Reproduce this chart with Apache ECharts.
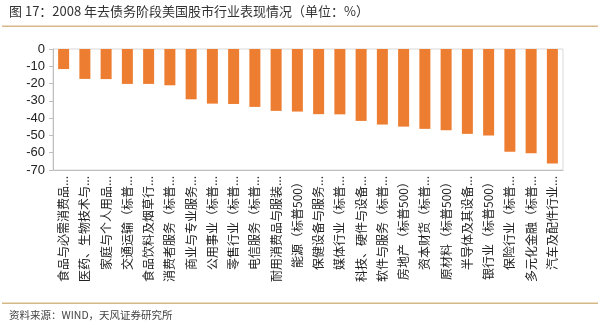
<!DOCTYPE html>
<html>
<head>
<meta charset="utf-8">
<script src="https://cdn.jsdelivr.net/npm/echarts@6/dist/echarts.min.js"></script>
<style>
html,body{margin:0;padding:0;background:#fff;}
#chart{width:600px;height:330px;}
</style>
</head>
<body>
<div id="chart"></div>
<script>
var titleText = '图 17：2008 年去债务阶段美国股市行业表现情况（单位：%）';
var sourceText = '资料来源：WIND，天风证券研究所';
var categories = [
  '食品与必需消费品...', '医药、生物技术与...', '家庭与个人用品...', '交通运输（标普...',
  '食品饮料及烟草行...', '消费者服务（标普...', '商业与专业服务...', '公用事业（标普...',
  '零售行业（标普...', '电信服务（标普...', '耐用消费品与服装...', '能源（标普500）',
  '保健设备与服务...', '媒体行业（标普...', '科技、硬件与设备...', '软件与服务（标普...',
  '房地产（标普500）', '资本财货（标普...', '原材料（标普500）', '半导体及其设备...',
  '银行业（标普500）', '保险行业（标普...', '多元化金融（标普...', '汽车及配件行业...'
];
var values = [-11.6, -17.3, -17.4, -20.2, -20.2, -21.0, -29.1, -31.6, -31.8, -33.5, -35.8, -36.2,
              -37.7, -37.8, -41.6, -43.7, -44.9, -46.2, -47.0, -49.1, -50.1, -59.4, -60.3, -66.3];
var yTicks = [0, -10, -20, -30, -40, -50, -60, -70];

var chart = echarts.init(document.getElementById('chart'), null, {renderer: 'canvas'});
chart.setOption({
  animation: false,
  backgroundColor: '#fff',
  grid: {left: 53, right: 37, top: 49, bottom: 160, show: true, borderColor: '#d9d9d9', borderWidth: 1},
  xAxis: {
    type: 'category',
    data: categories,
    position: 'bottom',
    axisLine: {onZero: false, lineStyle: {color: '#bfbfbf'}},
    axisTick: {show: false},
    axisLabel: {
      interval: 0, rotate: 90, margin: 6,
      fontSize: 12, color: '#222',
      fontFamily: '"Noto Sans CJK SC", sans-serif'
    }
  },
  yAxis: {
    type: 'value',
    min: yTicks[yTicks.length - 1], max: yTicks[0], interval: 10,
    axisLine: {show: true, lineStyle: {color: '#bfbfbf'}},
    axisTick: {show: true, length: 4, lineStyle: {color: '#bfbfbf'}},
    splitLine: {show: false},
    axisLabel: {fontSize: 13, color: '#222', margin: 8, fontFamily: '"Liberation Sans", Arial, sans-serif'}
  },
  series: [{
    type: 'bar',
    data: values,
    barWidth: 11,
    itemStyle: {color: '#ED7D31'}
  }],
  graphic: [
    {type: 'text', left: 9, top: 5, style: {text: titleText, fontSize: 13, fill: '#333', fontFamily: '"Noto Sans CJK SC", sans-serif'}},
    {type: 'rect', shape: {x: 2, y: 25.5, width: 596, height: 1.5}, style: {fill: '#d6b787'}},
    {type: 'rect', shape: {x: 2, y: 302.5, width: 596, height: 1.5}, style: {fill: '#d6b787'}},
    {type: 'text', left: 9, top: 310, style: {text: sourceText, fontSize: 10.5, fill: '#444', fontFamily: '"Noto Sans CJK SC", sans-serif'}}
  ]
});
</script>
</body>
</html>
